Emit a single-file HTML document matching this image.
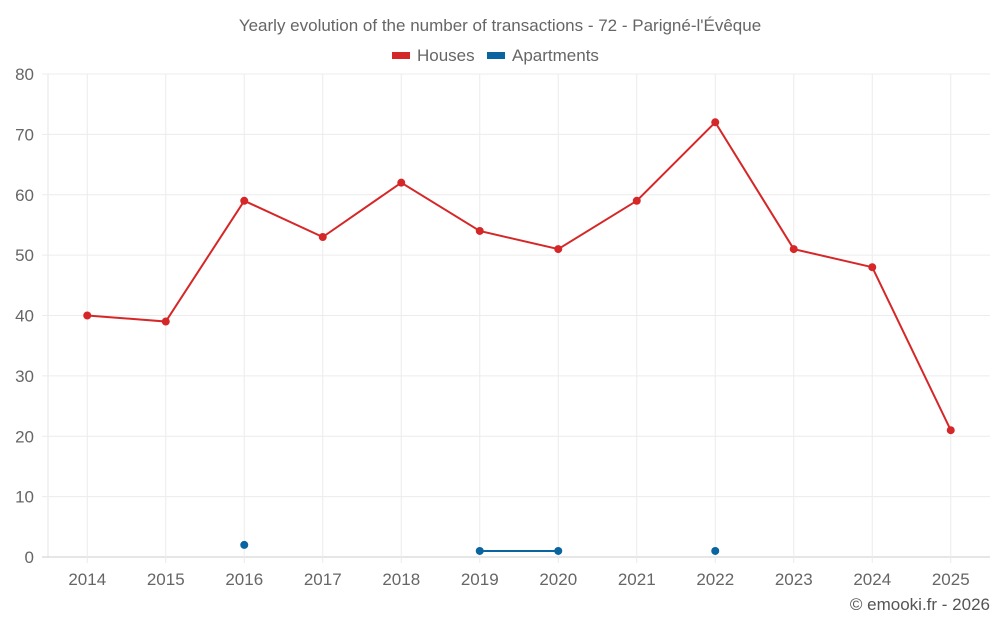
<!DOCTYPE html>
<html><head><meta charset="utf-8"><style>
body{margin:0;background:#fff;font-family:"Liberation Sans",sans-serif;}
svg text{font-family:"Liberation Sans",sans-serif;}
</style></head><body>
<svg id="chart" width="1000" height="625" xmlns="http://www.w3.org/2000/svg">
<text x="500" y="31" text-anchor="middle" font-size="17" fill="#666">Yearly evolution of the number of transactions - 72 - Parigné-l'Évêque</text>
<g><rect x="392" y="52" width="18" height="7" fill="#d62728"/><text x="417" y="61" font-size="17" fill="#666">Houses</text></g>
<g><rect x="487" y="52" width="18" height="7" fill="#0a64a0"/><text x="512" y="61" font-size="17" fill="#666">Apartments</text></g>
<g id="grid"></g>
<g id="axes"></g>
<g id="series"></g>
<text x="990" y="610" text-anchor="end" font-size="17" fill="#555">© emooki.fr - 2026</text>
</svg>
<script>
const years=["2014","2015","2016","2017","2018","2019","2020","2021","2022","2023","2024","2025"];
const houses=[40,39,59,53,62,54,51,59,72,51,48,21];
const apartments=[null,null,2,null,null,1,1,null,1,null,null,null];
const yTicks=[0,10,20,30,40,50,60,70,80];
const NS="http://www.w3.org/2000/svg";
const L=48,R=990,T=74,B=557,yMax=80;
const bw=(R-L)/years.length;
const x=i=>L+bw*(i+0.5);
const y=v=>B-(v/yMax)*(B-T);
function mk(tag,attrs,parent){const e=document.createElementNS(NS,tag);for(const k in attrs)e.setAttribute(k,attrs[k]);parent.appendChild(e);return e;}
const grid=document.getElementById('grid'),axes=document.getElementById('axes'),series=document.getElementById('series');
const ll=mk('line',{x1:L,x2:L,y1:T,y2:B,stroke:'#e6e6e6','stroke-width':1},grid);


yTicks.forEach(v=>{
  const l=mk('line',{x1:42,x2:R,y1:y(v),y2:y(v),stroke:v===0?'#ccc':'#ececec','stroke-width':1},grid);
  
  
  const t=mk('text',{x:34,y:y(v)+6,'text-anchor':'end','font-size':17,fill:'#666'},axes);
  t.textContent=v;
  
  
});
years.forEach((yr,i)=>{
  const l=mk('line',{x1:x(i),x2:x(i),y1:T,y2:B+6,stroke:'#ececec','stroke-width':1},grid);
  
  
  const t=mk('text',{x:x(i),y:585,'text-anchor':'middle','font-size':17,fill:'#666'},axes);
  t.textContent=yr;
  
  
});
function draw(data,color,name){
  let seg=[];
  const flush=()=>{if(seg.length>1){const p=mk('polyline',{points:seg.join(' '),fill:'none',stroke:color,'stroke-width':2},series);
    
    }seg=[];};
  data.forEach((v,i)=>{if(v==null){flush();return;}seg.push(x(i)+','+y(v));});
  flush();
  data.forEach((v,i)=>{if(v==null)return;
    const c=mk('circle',{cx:x(i),cy:y(v),r:4,fill:color},series);
    
    });
}
draw(houses,'#d62728','houses');
draw(apartments,'#0a64a0','apartments');
</script>
</body></html>
